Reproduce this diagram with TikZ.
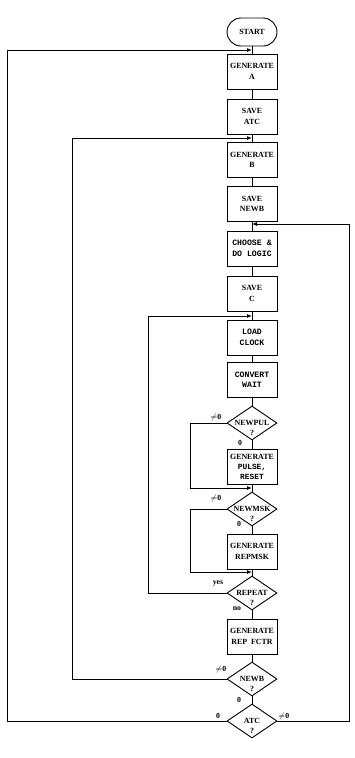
\documentclass[tikz,border=0pt]{standalone}
\usepackage{fontspec}
\setmainfont{Liberation Serif}
\setmonofont{Liberation Mono}
\usetikzlibrary{shapes.geometric,arrows.meta}
\begin{document}
\begin{tikzpicture}[x=1pt,y=-1pt,line width=0.9pt,
  proc/.style={draw, minimum width=50pt, minimum height=35pt, inner sep=0pt, align=center, font=\fontsize{7.9}{10.5}\selectfont\bfseries},
  tproc/.style={proc, font=\fontsize{8.2}{10.5}\selectfont\ttfamily\bfseries},
  term/.style={draw, rounded corners=14pt, minimum width=50pt, minimum height=28pt, inner sep=0pt, font=\fontsize{7.9}{9}\selectfont\bfseries},
  dec/.style={draw, diamond, minimum width=50pt, minimum height=34pt, inner sep=0pt},
  dtxt/.style={inner sep=0pt, align=center, font=\fontsize{7.9}{10}\selectfont\bfseries},
  lab/.style={inner sep=0pt, font=\fontsize{7.8}{9}\selectfont\bfseries},
  arr/.style={-{Latex[length=5pt,width=4pt]}}]
\useasboundingbox (0,0) rectangle (355,758);
\node[term] (start) at (252,32) {START};
\node[proc] (gena) at (252,71.5) {GENERATE\\A};
\node[proc] (satc) at (252,116.5) {SAVE\\ATC};
\node[proc] (genb) at (252,160) {GENERATE\\B};
\node[proc] (snewb) at (252,204) {SAVE\\NEWB};
\node[tproc] (choose) at (252,248.5) {CHOOSE \&\\DO LOGIC};
\node[proc] (savec) at (252,293.5) {SAVE\\C};
\node[tproc] (load) at (252,337.5) {LOAD\\CLOCK};
\node[tproc] (conv) at (252,380) {CONVERT\\WAIT};
\node[dec] (newpul) at (252,423) {};
\node[dtxt] (newpult) at ([yshift=-5pt]newpul.center) {NEWPUL\\?};
\node[proc, font=\fontsize{7.9}{9.8}\selectfont\bfseries] (genp) at (252,467) {GENERATE\\\texttt{PULSE,}\\\texttt{RESET}};
\node[dec] (newmsk) at (252,509) {};
\node[dtxt] (newmskt) at ([yshift=-5pt]newmsk.center) {NEWMSK\\?};
\node[proc] (genr) at (252,551.5) {GENERATE\\REPMSK};
\node[dec] (rep) at (252,593) {};
\node[dtxt] (rept) at ([yshift=-5pt]rep.center) {REPEAT\\?};
\node[proc] (genf) at (252,636.5) {GENERATE\\REP\ \ FCTR};
\node[dec] (newb) at (252,679) {};
\node[dtxt] (newbt) at ([yshift=-5pt]newb.center) {NEWB\\?};
\node[dec] (atc) at (252,721) {};
\node[dtxt] (atct) at ([yshift=-5pt]atc.center) {ATC\\?};
% main flow
\draw (start) -- (gena);
\draw (gena) -- (satc);
\draw (satc) -- (genb);
\draw (genb) -- (snewb);
\draw (snewb) -- (choose);
\draw (choose) -- (savec);
\draw (savec) -- (load);
\draw (load) -- (conv);
\draw (conv) -- (newpul.north);
\draw (newpul.south) -- (genp);
\draw (genp) -- (newmsk.north);
\draw (newmsk.south) -- (genr);
\draw (genr) -- (rep.north);
\draw (rep.south) -- (genf);
\draw (genf) -- (newb.north);
\draw (newb.south) -- (atc.north);
% junctions and corners
\coordinate (j1) at (252,50);  \coordinate (c1) at (7,50);
\coordinate (j2) at (252,138); \coordinate (c2) at (72,138);
\coordinate (j3) at (252,224); \coordinate (c3) at (349,224);
\coordinate (j4) at (252,316); \coordinate (c4) at (148,316);
\coordinate (j5) at (252,488); \coordinate (c5) at (190,488);
\coordinate (j6) at (252,572); \coordinate (c6) at (190,572);
\draw[arr] (atc.west) -| (c1) -- (j1);
\draw[arr] (newb.west) -| (c2) -- (j2);
\draw[arr] (atc.east) -| (c3) -- (j3);
\draw[arr] (rep.west) -| (c4) -- (j4);
\draw[arr] (newpul.west) -| (c5) -- (j5);
\draw[arr] (newmsk.west) -| (c6) -- (j6);
% labels
\node[lab] (l1) at (216,417) {$\neq$0};
\node[lab] (l2) at (240,443) {0};
\node[lab] (l3) at (216,498) {$\neq$0};
\node[lab] (l4) at (239,524) {0};
\node[lab] (l5) at (218,583) {yes};
\node[lab] (l6) at (237,609) {no};
\node[lab] (l7) at (221,669) {$\neq$0};
\node[lab] (l8) at (239,700) {0};
\node[lab] (l9) at (218,716) {0};
\node[lab] (l10) at (284,716) {$\neq$0};
\end{tikzpicture}
\end{document}
